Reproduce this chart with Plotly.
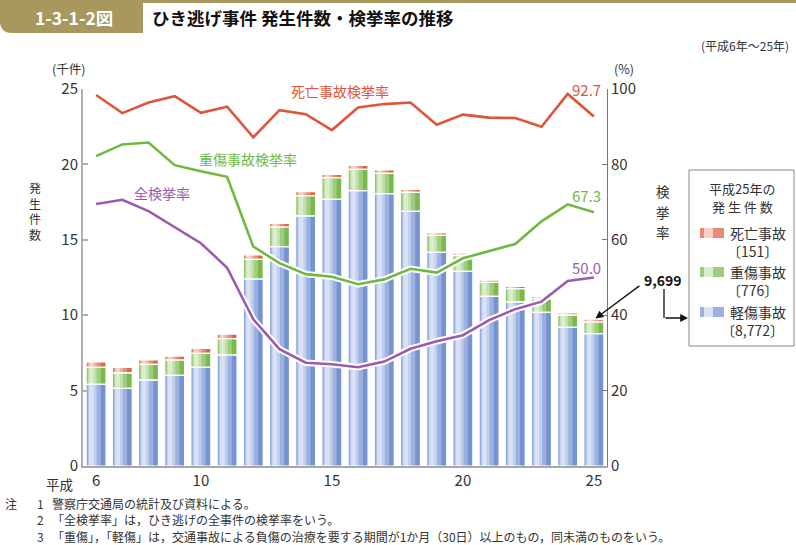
import plotly.graph_objects as go

# ---------------- data ----------------
years = list(range(6, 26))  # 平成6年～25年
light_injury = [5.42, 5.15, 5.70, 6.01, 6.54, 7.36, 12.40, 14.54, 16.58, 17.68,
                18.26, 18.06, 16.89, 14.17, 12.91, 11.25, 10.88, 10.19, 9.20, 8.772]   # 軽傷事故 (千件)
serious_injury = [1.12, 1.02, 1.04, 1.02, 0.93, 1.08, 1.30, 1.31, 1.35, 1.44,
                  1.41, 1.35, 1.26, 1.13, 1.06, 0.93, 0.88, 0.91, 0.81, 0.776]     # 重傷事故 (千件)
fatal = [0.36, 0.37, 0.29, 0.26, 0.33, 0.31, 0.30, 0.24, 0.26, 0.22,
         0.27, 0.22, 0.20, 0.15, 0.15, 0.15, 0.15, 0.13, 0.14, 0.151]             # 死亡事故 (千件)

rate_fatal = [98.4, 93.6, 96.4, 98.1, 93.7, 95.3, 87.2, 94.4, 93.3, 89.1,
              95.1, 96.0, 96.4, 90.5, 93.2, 92.4, 92.3, 90.0, 98.7, 92.7]         # 死亡事故検挙率
rate_serious = [82.2, 85.3, 85.8, 79.8, 78.2, 76.7, 58.2, 53.8, 50.9, 50.2,
                48.2, 49.5, 52.3, 51.3, 55.1, 57.1, 58.9, 64.9, 69.4, 67.3]       # 重傷事故検挙率
rate_all = [69.5, 70.6, 67.6, 63.3, 59.1, 52.6, 38.9, 31.0, 27.4, 27.0,
            26.2, 27.7, 31.1, 33.1, 34.7, 38.7, 41.6, 43.6, 49.1, 50.0]           # 全検挙率

x_tickvals = [6, 10, 15, 20, 25]
x_ticktext = ["6", "10", "15", "20", "25"]

FONT = "Noto Sans CJK JP"

# plot area geometry (pixels)
W, H = 796, 545
L, R, T, B = 83, 607, 89, 466


def px(x):
    return (x - L) / (R - L)


def py(y):
    return (B - y) / (B - T)


fig = go.Figure()

# ---------------- stacked bars with a horizontal gradient look ----------------
base_serious = [a for a in light_injury]
base_fatal = [a + b for a, b in zip(light_injury, serious_injury)]

segments = [
    ("軽傷事故", light_injury, [0] * len(years),
     ["#7692cf", "#9cb1e1", "#bfcdee", "#d9e2f5"]),
    ("重傷事故", serious_injury, base_serious,
     ["#7bb950", "#9fcd7e", "#c1e0ab", "#daedcd"]),
    ("死亡事故", fatal, base_fatal,
     ["#dd6549", "#e78d77", "#efb2a2", "#f6d0c6"]),
]
layers = [(-0.38, 0.76), (-0.34, 0.52), (-0.30, 0.32), (-0.26, 0.17)]

for name, vals, base, cols in segments:
    for (off, wd), col in zip(layers, cols):
        fig.add_trace(go.Bar(
            x=years, y=vals, base=base, offset=off, width=wd,
            marker=dict(color=col, line=dict(width=0)),
            name=name, showlegend=False, hoverinfo="skip",
        ))
# white separators / outlines
for name, vals, base, cols in segments:
    fig.add_trace(go.Bar(
        x=years, y=vals, base=base, offset=-0.38, width=0.76,
        marker=dict(color="rgba(0,0,0,0)", line=dict(width=1.2, color="white")),
        showlegend=False, hoverinfo="skip",
    ))

# ---------------- lines on right axis ----------------
line_specs = [
    (rate_fatal, "#df553a"),
    (rate_serious, "#71b843"),
    (rate_all, "#9b5cb0"),
]
for vals, col in line_specs:
    fig.add_trace(go.Scatter(x=years, y=vals, yaxis="y2", mode="lines",
                             line=dict(color="white", width=6.5),
                             showlegend=False, hoverinfo="skip"))
    fig.add_trace(go.Scatter(x=years, y=vals, yaxis="y2", mode="lines",
                             line=dict(color=col, width=2.6),
                             showlegend=False, hoverinfo="skip"))

fig.update_layout(
    width=W, height=H,
    margin=dict(l=L, r=W - R, t=T, b=H - B, autoexpand=False),
    paper_bgcolor="white", plot_bgcolor="white",
    barmode="overlay",
    font=dict(family=FONT, size=15, color="#333333"),
    showlegend=False,
    xaxis=dict(range=[5.5, 25.5], tickvals=x_tickvals, ticktext=x_ticktext,
               showgrid=False, zeroline=False, showline=True,
               linecolor="#a8a8a8", linewidth=2, ticks="",
               tickfont=dict(size=15, color="#333333")),
    yaxis=dict(range=[0, 25], dtick=5, showgrid=False, zeroline=False,
               showline=True, linecolor="#b0b0b0", linewidth=2,
               ticks="inside", ticklen=5, tickcolor="#b0b0b0", tickwidth=1.5,
               tickfont=dict(size=15, color="#333333")),
    yaxis2=dict(range=[0, 100], dtick=20, overlaying="y", side="right",
                showgrid=False, zeroline=False, showline=True,
                linecolor="#777777", linewidth=1,
                ticks="inside", ticklen=5, tickcolor="#777777",
                tickfont=dict(size=15, color="#333333")),
)

ann = []


def text(x, y, t, size=13, color="#333333", xanchor="center", bold=False, **kw):
    if bold:
        t = "<b>" + t + "</b>"
    ann.append(dict(x=px(x), y=py(y), xref="paper", yref="paper", text=t,
                    showarrow=False, xanchor=xanchor, yanchor="middle",
                    font=dict(family=FONT, size=size, color=color), **kw))


# ---------------- header ----------------
shapes = []
tab_col = "#a8985e"
shapes.append(dict(type="rect", xref="paper", yref="paper",
                   x0=px(0), x1=px(W), y0=py(0), y1=py(3),
                   fillcolor=tab_col, line=dict(width=0), layer="above"))
shapes.append(dict(type="path", xref="paper", yref="paper",
                   path=f"M {px(0)} {py(0)} L {px(143)} {py(0)} L {px(143)} {py(33)} "
                        f"L {px(12)} {py(33)} Q {px(0)} {py(33)} {px(0)} {py(21)} Z",
                   fillcolor=tab_col, line=dict(width=0), layer="above"))
text(74, 17, "1-3-1-2図", size=17.5, color="white", bold=True)
text(150, 17, "ひき逃げ事件 発生件数・検挙率の推移", size=17.5, color="#111111",
     xanchor="left", bold=True)
text(791, 45, "(平成6年～25年)", size=12, xanchor="right")

# axis titles
text(68, 68, "(千件)", size=12.5, color="#333333")
text(624, 68, "(%)", size=12.5, color="#333333")
text(35, 211, "発<br>生<br>件<br>数", size=12)
for i, ch in enumerate("検挙率"):
    text(663, 191 + i * 20.5, ch, size=13.5)
text(59, 484, "平成", size=13.5)

# line labels
text(340, 91, "死亡事故検挙率", size=14, color="#df553a")
text(248, 159, "重傷事故検挙率", size=14, color="#71b843")
text(162, 193, "全検挙率", size=14, color="#9b5cb0")
text(603, 89, f"{rate_fatal[-1]:.1f}", size=15, color="#df553a", xanchor="right")
text(603, 195, f"{rate_serious[-1]:.1f}", size=15, color="#71b843", xanchor="right")
text(603, 267, f"{rate_all[-1]:.1f}", size=15, color="#9b5cb0", xanchor="right")

# total for last year with arrow to the bar
total_last = round((light_injury[-1] + serious_injury[-1] + fatal[-1]) * 1000)
ann.append(dict(x=years[-1], y=base_fatal[-1] + fatal[-1], xref="x", yref="y",
                text="", showarrow=True, arrowhead=2, arrowsize=1.2, arrowwidth=1.3,
                arrowcolor="#111111", ax=47, ay=-35, standoff=2))
text(663, 280, f"{total_last:,}", size=14, color="#111111", bold=True)
shapes.append(dict(type="line", xref="paper", yref="paper",
                   x0=px(664), x1=px(664), y0=py(289), y1=py(318),
                   line=dict(color="#111111", width=1.3)))
ann.append(dict(x=px(688), y=py(318), xref="paper", yref="paper", text="",
                showarrow=True, arrowhead=2, arrowsize=1.2, arrowwidth=1.3,
                arrowcolor="#111111", axref="pixel", ax=-24, ay=0))

# legend box
shapes.append(dict(type="rect", xref="paper", yref="paper",
                   x0=px(689), x1=px(794), y0=py(170), y1=py(346),
                   line=dict(color="#888888", width=1), fillcolor="white",
                   layer="below"))
text(742, 188, "平成25年の", size=13)
text(742, 206, "発 生 件 数", size=13)
leg_items = [
    ("死亡事故", fatal[-1], segments[2][3], 233),
    ("重傷事故", serious_injury[-1], segments[1][3], 272),
    ("軽傷事故", light_injury[-1], segments[0][3], 312),
]
for name, v, cols, yc in leg_items:
    shapes.append(dict(type="rect", xref="paper", yref="paper",
                       x0=px(700), x1=px(724), y0=py(yc + 5), y1=py(yc - 5),
                       fillcolor=cols[1], line=dict(width=0)))
    shapes.append(dict(type="rect", xref="paper", yref="paper",
                       x0=px(704), x1=px(713), y0=py(yc + 5), y1=py(yc - 5),
                       fillcolor=cols[3], line=dict(width=0)))
    text(728, yc, name, size=14, xanchor="left")
    text(752, yc + 18, f"〔{round(v * 1000):,}〕", size=14)

# notes
notes = [
    ("注", "1", "警察庁交通局の統計及び資料による。"),
    ("", "2", "「全検挙率」は，ひき逃げの全事件の検挙率をいう。"),
    ("", "3", "「重傷」，「軽傷」は，交通事故による負傷の治療を要する期間が1か月（30日）以上のもの，同未満のものをいう。"),
]
for i, (a, n, t) in enumerate(notes):
    yy = 503 + i * 16.5
    if a:
        text(3, yy, a, size=12, xanchor="left")
    text(35, yy, n, size=12, xanchor="left")
    text(50, yy, t, size=12, xanchor="left")

fig.update_layout(annotations=ann, shapes=shapes)
fig.write_html("out.html",
               config={"displayModeBar": False},
               post_script="document.body.style.margin='0';"
                           "document.body.style.overflow='hidden';")
